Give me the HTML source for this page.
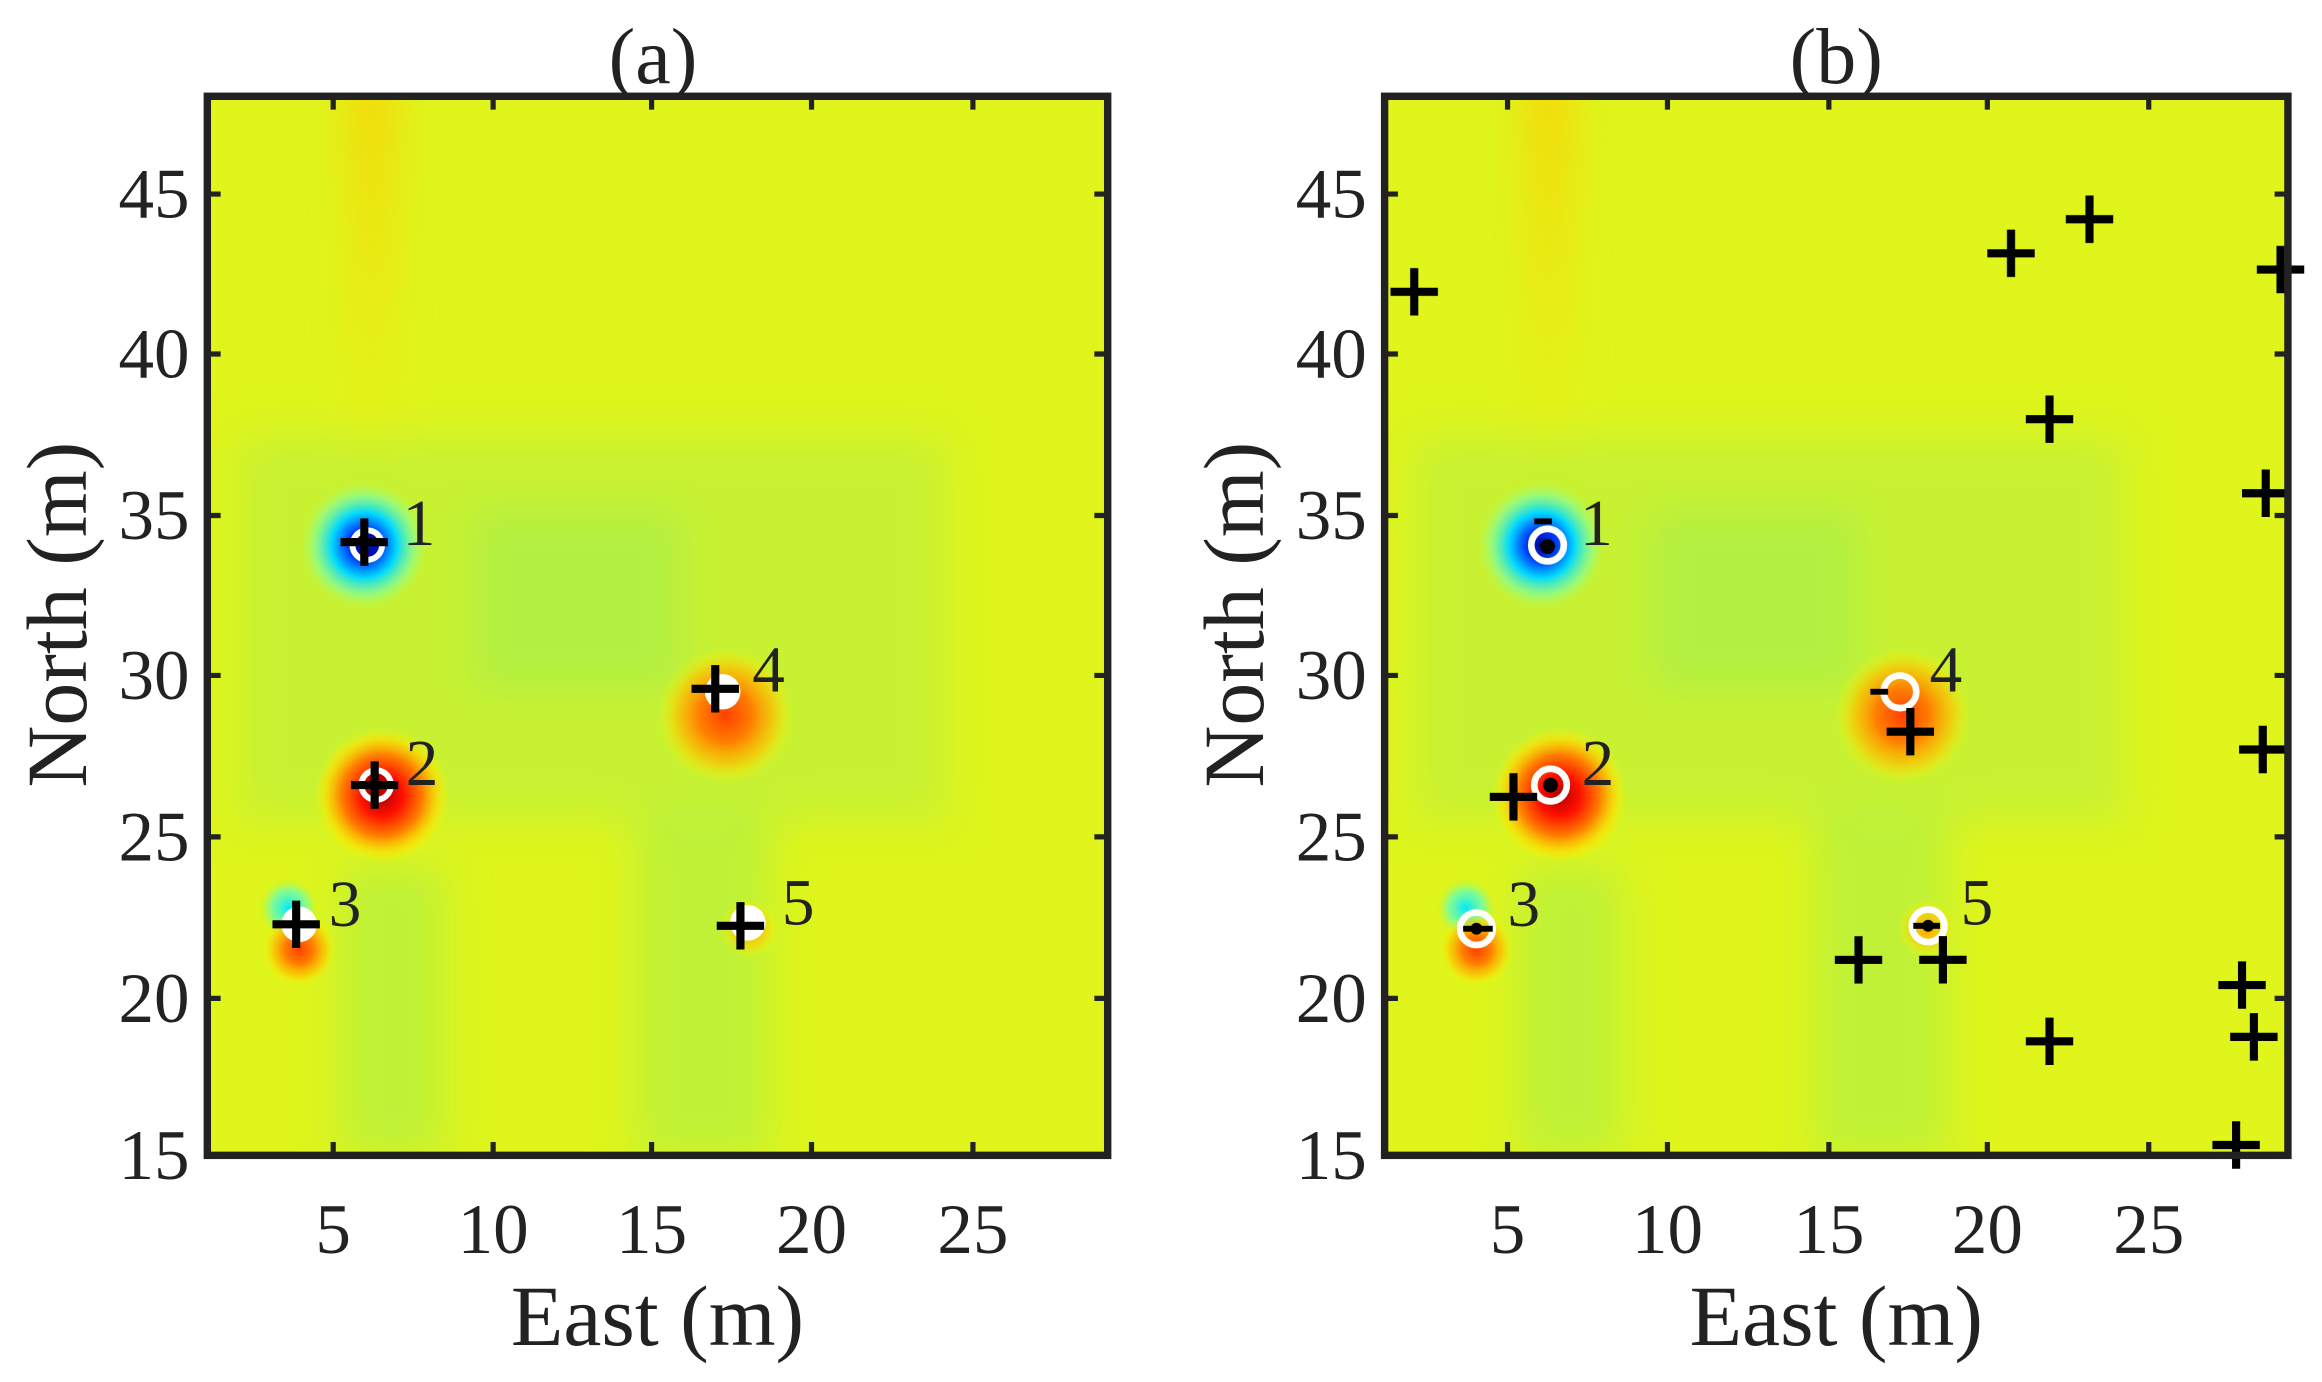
<!DOCTYPE html>
<html><head><meta charset="utf-8"><style>
html,body{margin:0;padding:0;background:#fff;}
svg{display:block;}
text{font-family:"Liberation Serif",serif;fill:#222;}
</style></head><body>
<svg width="2322" height="1382" viewBox="0 0 1568 933" preserveAspectRatio="none" xmlns="http://www.w3.org/2000/svg">
<defs>
 <clipPath id="clp"><rect x="0" y="0" width="610" height="715"/></clipPath>
 <filter id="bl" x="-50%" y="-50%" width="200%" height="200%"><feGaussianBlur stdDeviation="14"/></filter>
 <radialGradient id="blue"><stop offset="0" stop-color="#00008f"/><stop offset="0.25" stop-color="#0040ff"/><stop offset="0.5" stop-color="#00d8ff"/><stop offset="0.78" stop-color="#80ffa0" stop-opacity="0.6"/><stop offset="1" stop-color="#c0ff40" stop-opacity="0"/></radialGradient>
 <radialGradient id="red"><stop offset="0" stop-color="#b00000"/><stop offset="0.3" stop-color="#ff1000"/><stop offset="0.6" stop-color="#ff8000"/><stop offset="0.82" stop-color="#ffd800" stop-opacity="0.7"/><stop offset="1" stop-color="#ffff00" stop-opacity="0"/></radialGradient>
 <radialGradient id="orange"><stop offset="0" stop-color="#ff4000"/><stop offset="0.4" stop-color="#ff8000"/><stop offset="0.72" stop-color="#ffc000" stop-opacity="0.7"/><stop offset="1" stop-color="#ffff00" stop-opacity="0"/></radialGradient>
 <radialGradient id="orsm"><stop offset="0" stop-color="#ffa000"/><stop offset="0.6" stop-color="#ffd000" stop-opacity="0.6"/><stop offset="1" stop-color="#ffff00" stop-opacity="0"/></radialGradient>
 <radialGradient id="cyan"><stop offset="0" stop-color="#00e8ff"/><stop offset="0.6" stop-color="#60ffc0" stop-opacity="0.7"/><stop offset="1" stop-color="#b0ff50" stop-opacity="0"/></radialGradient>
 <linearGradient id="streak" x1="0" y1="0" x2="0" y2="1"><stop offset="0" stop-color="#ffc800" stop-opacity="0.8"/><stop offset="1" stop-color="#ffe000" stop-opacity="0"/></linearGradient>
 <g id="field">
  <g clip-path="url(#clp)">
  <rect x="0" y="0" width="610" height="715" fill="#dff51c"/>
  <g filter="url(#bl)">
   <rect x="20" y="230" width="480" height="260" fill="#c2f038" opacity="0.8"/>
   <rect x="180" y="280" width="140" height="120" fill="#a8f048" opacity="0.7"/>
   <rect x="90" y="520" width="70" height="195" fill="#b8f040" opacity="0.8"/>
   <rect x="290" y="480" width="90" height="235" fill="#b8f040" opacity="0.8"/>
   <rect x="96" y="-20" width="30" height="280" fill="url(#streak)"/>
  </g>
  <circle cx="106" cy="303" r="44" fill="url(#blue)"/>
  <circle cx="118" cy="472" r="46" fill="url(#red)"/>
  <circle cx="55" cy="548" r="20" fill="url(#cyan)"/>
  <circle cx="62" cy="576" r="25" fill="url(#orange)"/>
  <circle cx="350" cy="418" r="46" fill="url(#orange)"/>
  <circle cx="366" cy="562" r="20" fill="url(#orsm)"/>
  </g>
 </g>
 <g id="cr"><path d="M-16 0H16M0 -16V16" stroke="#000" stroke-width="5.5"/></g>
</defs>

<!-- Panel a -->
<g transform="translate(140,65)"><use href="#field"/></g>
<g fill="#fff" stroke="none">
 <circle cx="248" cy="368" r="12"/><circle cx="254" cy="530" r="12"/><circle cx="202" cy="624" r="12"/><circle cx="488" cy="467" r="12"/><circle cx="505" cy="623" r="12"/>
</g>
<circle cx="248" cy="368" r="8" fill="#0010b0"/>
<circle cx="254" cy="530" r="8" fill="#c00000"/>
<use href="#cr" x="246" y="366"/><use href="#cr" x="253" y="530"/><use href="#cr" x="200" y="624"/><use href="#cr" x="483" y="465"/><use href="#cr" x="500" y="625"/>
<g font-size="44"><text x="272" y="368">1</text><text x="274" y="530">2</text><text x="222" y="625">3</text><text x="508" y="467">4</text><text x="528" y="624">5</text></g>
<rect x="140" y="65" width="608" height="715" fill="none" stroke="#222" stroke-width="5"/>
<g stroke="#222" stroke-width="3.5">
 <path d="M225 780v-9M333 780v-9M440 780v-9M548 780v-9M657 780v-9M225 65v9M333 65v9M440 65v9M548 65v9M657 65v9"/>
 <path d="M140 131h9M140 239h9M140 348h9M140 456h9M140 565h9M140 674h9M748 131h-9M748 239h-9M748 348h-9M748 456h-9M748 565h-9M748 674h-9"/>
</g>
<g font-size="48" text-anchor="end"><text x="128" y="147">45</text><text x="128" y="255">40</text><text x="128" y="364">35</text><text x="128" y="472">30</text><text x="128" y="581">25</text><text x="128" y="690">20</text><text x="128" y="796">15</text></g>
<g font-size="48" text-anchor="middle"><text x="225" y="846">5</text><text x="333" y="846">10</text><text x="440" y="846">15</text><text x="548" y="846">20</text><text x="657" y="846">25</text></g>
<text x="444" y="908" font-size="58" text-anchor="middle">East (m)</text>
<text x="441" y="56" font-size="54" text-anchor="middle">(a)</text>
<text transform="translate(58,415) rotate(-90)" font-size="58" text-anchor="middle">North (m)</text>

<!-- Panel b -->
<g transform="translate(935,65)"><use href="#field"/></g>
<g fill="none" stroke="#fff" stroke-width="4.5">
 <circle cx="1045" cy="368" r="11"/><circle cx="1047" cy="530" r="11"/><circle cx="997" cy="627" r="11"/><circle cx="1283" cy="467" r="11"/><circle cx="1302" cy="625" r="11"/>
</g>
<g fill="#000"><circle cx="1045" cy="369" r="5"/><circle cx="1047" cy="530" r="5"/><circle cx="997" cy="627" r="4"/><circle cx="1302" cy="625" r="4"/></g>
<path d="M1036 352h12M1263 467h12M988 627h20M1292 625h18" stroke="#000" stroke-width="4"/>
<use href="#cr" x="955" y="197"/><use href="#cr" x="1358" y="171"/><use href="#cr" x="1411" y="148"/><use href="#cr" x="1540" y="182"/>
<use href="#cr" x="1384" y="283"/><use href="#cr" x="1530" y="333"/><use href="#cr" x="1528" y="506"/><use href="#cr" x="1022" y="538"/>
<use href="#cr" x="1290" y="494"/><use href="#cr" x="1255" y="648"/><use href="#cr" x="1312" y="648"/><use href="#cr" x="1384" y="703"/>
<use href="#cr" x="1514" y="665"/><use href="#cr" x="1522" y="700"/><use href="#cr" x="1510" y="773"/>
<g font-size="44"><text x="1067" y="368">1</text><text x="1068" y="530">2</text><text x="1018" y="625">3</text><text x="1303" y="467">4</text><text x="1324" y="624">5</text></g>
<rect x="935" y="65" width="610" height="715" fill="none" stroke="#222" stroke-width="5"/>
<g stroke="#222" stroke-width="3.5">
 <path d="M1018 780v-9M1126 780v-9M1235 780v-9M1342 780v-9M1451 780v-9M1018 65v9M1126 65v9M1235 65v9M1342 65v9M1451 65v9"/>
 <path d="M935 131h9M935 239h9M935 348h9M935 456h9M935 565h9M935 674h9M1545 131h-9M1545 239h-9M1545 348h-9M1545 456h-9M1545 565h-9M1545 674h-9"/>
</g>
<g font-size="48" text-anchor="end"><text x="923" y="147">45</text><text x="923" y="255">40</text><text x="923" y="364">35</text><text x="923" y="472">30</text><text x="923" y="581">25</text><text x="923" y="690">20</text><text x="923" y="796">15</text></g>
<g font-size="48" text-anchor="middle"><text x="1018" y="846">5</text><text x="1126" y="846">10</text><text x="1235" y="846">15</text><text x="1342" y="846">20</text><text x="1451" y="846">25</text></g>
<text x="1240" y="908" font-size="58" text-anchor="middle">East (m)</text>
<text x="1240" y="56" font-size="54" text-anchor="middle">(b)</text>
<text transform="translate(853,415) rotate(-90)" font-size="58" text-anchor="middle">North (m)</text>
</svg>
</body></html>
